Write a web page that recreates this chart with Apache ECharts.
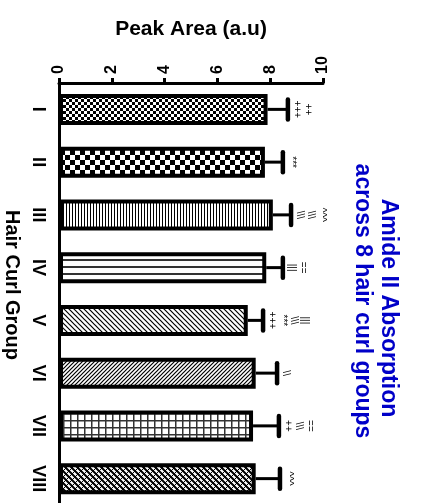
<!DOCTYPE html>
<html>
<head>
<meta charset="utf-8">
<script src="https://cdn.jsdelivr.net/npm/echarts@6/dist/echarts.min.js"></script>
<style>
  html, body { margin: 0; padding: 0; background: #fff; }
  #chart { width: 422px; height: 503px; }
</style>
</head>
<body>
<div id="chart"></div>
<script>
const groups = ['I', 'II', 'III', 'IV', 'V', 'VI', 'VII', 'VIII'];
const peakArea = [7.9, 7.8, 8.1, 7.85, 7.15, 7.45, 7.35, 7.45];
const peakSd = [0.77, 0.68, 0.69, 0.63, 0.58, 0.81, 0.98, 0.92];
// significance marks, top line is the one furthest from the bar
const sigMarks = ['++\n+++', '***', '^^^\n\\\\\\\n\\\\\\', '==\n|||', '|||\n\\\\\\\n***\n+++', '\\\\', '==\n\\\\\\\n++', '^^^'];
const valueTicks = [0, 2, 4, 6, 8, 10];

const font = '"Liberation Sans", Arial, sans-serif';

// small repeating canvas tiles used as bar fills
function tile(w, h, draw) {
  const c = document.createElement('canvas');
  c.width = w;
  c.height = h;
  const ctx = c.getContext('2d');
  ctx.fillStyle = '#fff';
  ctx.fillRect(0, 0, w, h);
  ctx.fillStyle = '#000';
  ctx.strokeStyle = '#000';
  draw(ctx);
  return { image: c, repeat: 'repeat' };
}
function diag(ctx, s, dir, lw) {
  ctx.lineWidth = lw;
  ctx.beginPath();
  for (let k = -1; k <= 1; k++) {
    if (dir > 0) {
      ctx.moveTo(k * s - 1, -1);
      ctx.lineTo(k * s + s + 1, s + 1);
    } else {
      ctx.moveTo(k * s - 1, s + 1);
      ctx.lineTo(k * s + s + 1, -1);
    }
  }
  ctx.stroke();
}

const fills = [
  tile(6, 6, ctx => { ctx.fillRect(0, 0, 3, 3); ctx.fillRect(3, 3, 3, 3); }),
  tile(10, 10, ctx => { ctx.fillRect(0, 0, 5, 5); ctx.fillRect(5, 5, 5, 5); }),
  tile(3, 1, ctx => { ctx.fillRect(0, 0, 1, 1); }),
  tile(1, 7, ctx => { ctx.fillStyle = '#333'; ctx.fillRect(0, 0, 1, 2); }),
  tile(5, 5, ctx => diag(ctx, 5, 1, 1.2)),
  tile(4, 4, ctx => diag(ctx, 4, -1, 1.2)),
  tile(7, 7, ctx => { ctx.fillStyle = '#333'; ctx.fillRect(0, 0, 7, 1.5); ctx.fillRect(0, 0, 1.5, 7); }),
  tile(6, 6, ctx => { diag(ctx, 6, 1, 2); diag(ctx, 6, -1, 1); })
];

const chart = echarts.init(document.getElementById('chart'));
chart.setOption({
  animation: false,
  backgroundColor: '#fff',
  textStyle: { fontFamily: font },
  grid: { left: 59, top: 83, width: 264, height: 422, outerBoundsMode: 'none', containLabel: false },
  graphic: [
    {
      type: 'text', x: 388, y: 308, rotation: -Math.PI / 2,
      style: { text: 'Amide II Absorption', font: 'bold 23px ' + font, fill: '#0000c8', align: 'center', verticalAlign: 'middle' }
    },
    {
      type: 'text', x: 362, y: 301, rotation: -Math.PI / 2,
      style: { text: 'across 8 hair curl groups', font: 'bold 23px ' + font, fill: '#0000c8', align: 'center', verticalAlign: 'middle' }
    }
  ],
  xAxis: {
    type: 'value',
    position: 'top',
    min: 0,
    max: 10,
    interval: 2,
    name: 'Peak Area (a.u)',
    nameLocation: 'middle',
    nameGap: 43,
    nameTextStyle: { fontSize: 21, fontWeight: 'bold', color: '#000' },
    axisLine: { show: true, lineStyle: { color: '#000', width: 3 } },
    axisTick: { show: true, length: 5, customValues: valueTicks, lineStyle: { color: '#000', width: 3 } },
    axisLabel: { rotate: -90, margin: 9, fontSize: 16, fontWeight: 'bold', color: '#000', customValues: valueTicks },
    splitLine: { show: false }
  },
  yAxis: {
    type: 'category',
    data: groups,
    inverse: true,
    name: 'Hair Curl Group',
    nameLocation: 'middle',
    nameGap: 37,
    nameRotate: -90,
    nameTextStyle: { fontSize: 20, fontWeight: 'bold', color: '#000', padding: [0, 18, 0, 0] },
    axisLine: { lineStyle: { color: '#000', width: 3 } },
    axisTick: { alignWithLabel: true, length: 6, lineStyle: { color: '#000', width: 3 } },
    axisLabel: { rotate: -90, margin: 12, fontSize: 18, fontWeight: 'bold', color: '#000' }
  },
  series: [
    {
      type: 'bar',
      barWidth: 31,
      data: peakArea.map((v, i) => ({ value: v, itemStyle: { color: fills[i] } })),
      itemStyle: { borderColor: '#000', borderWidth: 4 },
      z: 2
    },
    {
      type: 'custom',
      encode: { x: 0, y: 1 },
      data: peakArea.map((v, i) => [v, i, peakSd[i]]),
      renderItem: (params, api) => {
        const v = api.value(0);
        const i = api.value(1);
        const sd = api.value(2);
        const p0 = api.coord([v, i]);
        const p1 = api.coord([v + sd, i]);
        return {
          type: 'group',
          children: [
            { type: 'line', shape: { x1: p0[0], y1: p0[1], x2: p1[0], y2: p1[1] }, style: { stroke: '#000', lineWidth: 3 } },
            { type: 'line', shape: { x1: p1[0], y1: p1[1] - 10, x2: p1[0], y2: p1[1] + 10 }, style: { stroke: '#000', lineWidth: 4.5, lineCap: 'round' } },
            {
              type: 'text', x: p1[0] + 3, y: p1[1], rotation: -Math.PI / 2,
              style: { text: sigMarks[params.dataIndex], font: '10px ' + font, fill: '#000', align: 'center', verticalAlign: 'bottom', lineHeight: 11 }
            }
          ]
        };
      },
      z: 5
    }
  ]
});
</script>
</body>
</html>
